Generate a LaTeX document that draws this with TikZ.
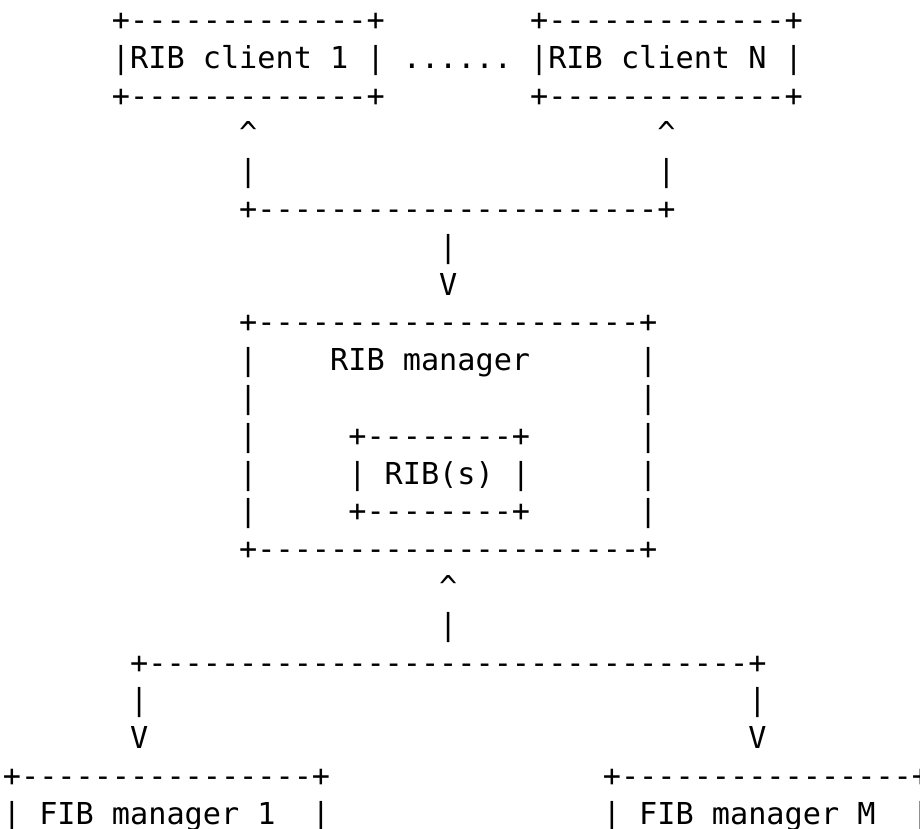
\documentclass[tikz,border=0pt]{standalone}
\usepackage{fontspec}
\setmonofont{DejaVu Sans Mono}
\tikzset{asciitext/.style={anchor=base west, inner sep=0pt, outer sep=0pt,
  font=\ttfamily\fontsize{30.2}{36}\selectfont, text=black}}
% row, column, name, text
\newcommand\putseg[4]{\node[asciitext] (#3) at ({2.9pt+#2*18.18pt},{-30.5pt-(#1-1)*37.8pt}) {#4};}
\begin{document}
\begin{tikzpicture}
\fill[white] (0,0) rectangle (920pt,-828pt);
\useasboundingbox (0,0) rectangle (920pt,-828pt);
% RIB clients
\putseg{1}{6}{c1top}{+-------------+}
\putseg{1}{29}{cNtop}{+-------------+}
\putseg{2}{6}{clients}{|RIB client 1 | ...... |RIB client N |}
\putseg{3}{6}{c1bot}{+-------------+}
\putseg{3}{29}{cNbot}{+-------------+}
\putseg{4}{13}{a1}{\textasciicircum}
\putseg{4}{36}{aN}{\textasciicircum}
\putseg{5}{13}{v1}{|}
\putseg{5}{36}{vN}{|}
\putseg{6}{13}{join}{+----------------------+}
\putseg{7}{24}{v2}{|}
\putseg{8}{24}{d2}{V}
% RIB manager
\putseg{9}{13}{mtop}{+---------------------+}
\putseg{10}{13}{ml1}{|}
\putseg{10}{18}{mlabel}{RIB manager}
\putseg{10}{35}{mr1}{|}
\putseg{11}{13}{ml2}{|}
\putseg{11}{35}{mr2}{|}
\putseg{12}{13}{ml3}{|}
\putseg{12}{19}{rtop}{+--------+}
\putseg{12}{35}{mr3}{|}
\putseg{13}{13}{ml4}{|}
\putseg{13}{19}{ribs}{| RIB(s) |}
\putseg{13}{35}{mr4}{|}
\putseg{14}{13}{ml5}{|}
\putseg{14}{19}{rbot}{+--------+}
\putseg{14}{35}{mr5}{|}
\putseg{15}{13}{mbot}{+---------------------+}
% to FIB managers
\putseg{16}{24}{a3}{\textasciicircum}
\putseg{17}{24}{v3}{|}
\putseg{18}{7}{split}{+---------------------------------+}
\putseg{19}{7}{v4}{|}
\putseg{19}{41}{v5}{|}
\putseg{20}{7}{d4}{V}
\putseg{20}{41}{d5}{V}
\putseg{21}{0}{f1top}{+----------------+}
\putseg{21}{33}{fMtop}{+----------------+}
\putseg{22}{0}{f1text}{| FIB manager 1}
\putseg{22}{17}{f1r}{|}
\putseg{22}{33}{fMtext}{| FIB manager M}
\putseg{22}{50}{fMr}{|}
\end{tikzpicture}
\end{document}
